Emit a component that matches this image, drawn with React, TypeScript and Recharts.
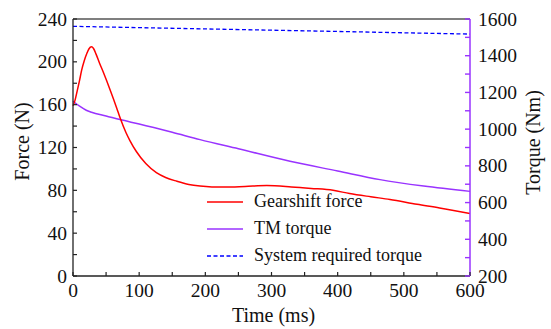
import React from 'react';
import { LineChart, Line, XAxis, YAxis, ReferenceLine, Legend, Label } from 'recharts';

// Gearshift force (N) vs time (ms)
const forceTime = [0, 3, 6, 10, 13, 17, 21, 24, 28, 31, 35, 40, 46, 56, 66, 71, 80, 86, 96, 110, 126, 140, 157, 175, 192, 210, 230, 260, 293, 330, 360, 393, 418, 450, 479, 520, 554, 600];
const gearshiftForce = [159, 164, 172, 183, 192, 201, 208, 212, 214, 212.5, 207, 199, 190, 174, 157, 148, 134, 126.5, 116, 105, 96.5, 92, 88.5, 85.5, 84, 83.2, 83, 83.6, 84.4, 83.2, 81.8, 80, 77, 74, 71.5, 67, 63.6, 58.3];

// TM torque (Nm) vs time (ms)
const torqueTime = [0, 10, 20, 28, 50, 71, 100, 150, 192, 250, 328, 400, 464, 530, 600];
const tmTorque = [1152, 1125, 1103, 1092, 1072, 1052, 1028, 983, 943, 893, 825, 772, 725, 690, 661];

// System required torque (Nm) vs time (ms)
const requiredTime = [0, 100, 200, 300, 400, 500, 600];
const requiredTorque = [1560, 1553, 1546, 1539, 1532, 1525, 1518];

const timeTicks = [0, 50, 100, 150, 200, 250, 300, 350, 400, 450, 500, 550, 600];
const forceTicks = [0, 20, 40, 60, 80, 100, 120, 140, 160, 180, 200, 220, 240];
const torqueTicks = [200, 300, 400, 500, 600, 700, 800, 900, 1000, 1100, 1200, 1300, 1400, 1500, 1600];

const forceData = forceTime.map((t, i) => ({ t, v: gearshiftForce[i] }));
const torqueData = torqueTime.map((t, i) => ({ t, v: tmTorque[i] }));
const requiredData = requiredTime.map((t, i) => ({ t, v: requiredTorque[i] }));

const FONT = '"Liberation Serif", "Times New Roman", serif';
const RED = '#ff0000';
const PURPLE = '#9933ff';
const BLUE = '#0000ff';
const AXIS = '#222222';

const textStyle = { fontFamily: FONT, fontSize: 19.5, fill: '#111' };
const titleStyle = { fontFamily: FONT, fontSize: 20, fill: '#111' };

const legendItems = [
  { name: 'Gearshift force', color: RED, dash: undefined },
  { name: 'TM torque', color: PURPLE, dash: undefined },
  { name: 'System required torque', color: BLUE, dash: '4 2.5' },
];

const BottomTick = (props: any) => {
  const { x, y, payload } = props;
  const major = payload.value % 100 === 0;
  return (
    <g>
      <line x1={x} x2={x} y1={y} y2={y - 4} stroke={AXIS} strokeWidth={1.2} />
      {major && (
        <text x={x} y={y + 21} textAnchor="middle" style={textStyle}>
          {payload.value}
        </text>
      )}
    </g>
  );
};

const LeftTick = (props: any) => {
  const { x, y, payload } = props;
  const major = payload.value % 40 === 0;
  return (
    <g>
      <line x1={x} x2={x + 4} y1={y} y2={y} stroke={AXIS} strokeWidth={1.2} />
      {major && (
        <text x={x - 6} y={y + 6.5} textAnchor="end" style={textStyle}>
          {payload.value}
        </text>
      )}
    </g>
  );
};

const RightTick = (props: any) => {
  const { x, y, payload } = props;
  const major = payload.value % 200 === 0;
  return (
    <g>
      <line x1={x} x2={x - 5} y1={y} y2={y} stroke={PURPLE} strokeWidth={1.4} />
      {major && (
        <text x={x + 8} y={y + 6.5} textAnchor="start" style={textStyle}>
          {payload.value}
        </text>
      )}
    </g>
  );
};

const LegendBox = () => (
  <div style={{ fontFamily: FONT, fontSize: 18, color: '#111' }}>
    {legendItems.map((it) => (
      <div key={it.name} style={{ display: 'flex', alignItems: 'center', height: 27.2, whiteSpace: 'nowrap' }}>
        <svg width={47} height={10} style={{ display: 'block' }}>
          <line x1={0} x2={36} y1={5} y2={5} stroke={it.color} strokeWidth={1.5} strokeDasharray={it.dash} />
        </svg>
        <span>{it.name}</span>
      </div>
    ))}
  </div>
);

const App: React.FC = () => {
  return (
    <div style={{ position: 'absolute', left: 0, top: 0, background: '#fff', fontFamily: FONT }}>
      <LineChart width={551} height={329} margin={{ top: 19, right: 0, bottom: 0, left: 0 }}>
        <XAxis
          dataKey="t"
          type="number"
          domain={[0, 600]}
          ticks={timeTicks}
          interval={0}
          height={53}
          tickSize={0}
          tickMargin={0}
          tick={<BottomTick />}
          axisLine={{ stroke: AXIS, strokeWidth: 1.3 }}
          allowDuplicatedCategory={false}
        >
          <Label
            content={(p: any) => {
              const vb = p.viewBox;
              return (
                <text x={vb.x + vb.width / 2 + 2} y={vb.y + 46} textAnchor="middle" style={titleStyle}>
                  Time (ms)
                </text>
              );
            }}
          />
        </XAxis>
        <YAxis
          yAxisId="force"
          orientation="left"
          domain={[0, 240]}
          ticks={forceTicks}
          interval={0}
          width={73}
          tickSize={0}
          tickMargin={0}
          tick={<LeftTick />}
          axisLine={{ stroke: AXIS, strokeWidth: 1.3 }}
        >
          <Label
            content={(p: any) => {
              const vb = p.viewBox;
              const cx = vb.x + 22;
              const cy = vb.y + vb.height / 2 - 6;
              return (
                <text x={cx} y={cy} transform={`rotate(-90 ${cx} ${cy})`} textAnchor="middle" dominantBaseline="central" style={titleStyle}>
                  Force (N)
                </text>
              );
            }}
          />
        </YAxis>
        <YAxis
          yAxisId="torque"
          orientation="right"
          domain={[200, 1600]}
          ticks={torqueTicks}
          interval={0}
          width={81}
          tickSize={0}
          tickMargin={0}
          tick={<RightTick />}
          axisLine={{ stroke: PURPLE, strokeWidth: 1.5 }}
        >
          <Label
            content={(p: any) => {
              const vb = p.viewBox;
              const cx = vb.x + 63;
              const cy = vb.y + vb.height / 2 - 5;
              return (
                <text x={cx} y={cy} transform={`rotate(-90 ${cx} ${cy})`} textAnchor="middle" dominantBaseline="central" style={titleStyle}>
                  Torque (Nm)
                </text>
              );
            }}
          />
        </YAxis>
        <ReferenceLine yAxisId="force" y={240} stroke="#555" strokeWidth={1.3} />
        <Legend
          layout="vertical"
          align="center"
          verticalAlign="middle"
          content={<LegendBox />}
          wrapperStyle={{ left: 207, top: 188, width: 'auto', height: 'auto' }}
        />
        <Line
          yAxisId="torque"
          data={requiredData}
          dataKey="v"
          type="linear"
          stroke={BLUE}
          strokeWidth={1.3}
          strokeDasharray="4 2.5"
          dot={false}
          activeDot={false}
          isAnimationActive={false}
        />
        <Line
          yAxisId="torque"
          data={torqueData}
          dataKey="v"
          type="monotone"
          stroke={PURPLE}
          strokeWidth={1.5}
          dot={false}
          activeDot={false}
          isAnimationActive={false}
        />
        <Line
          yAxisId="force"
          data={forceData}
          dataKey="v"
          type="monotone"
          stroke={RED}
          strokeWidth={1.5}
          dot={false}
          activeDot={false}
          isAnimationActive={false}
        />
      </LineChart>
    </div>
  );
};

export default App;
